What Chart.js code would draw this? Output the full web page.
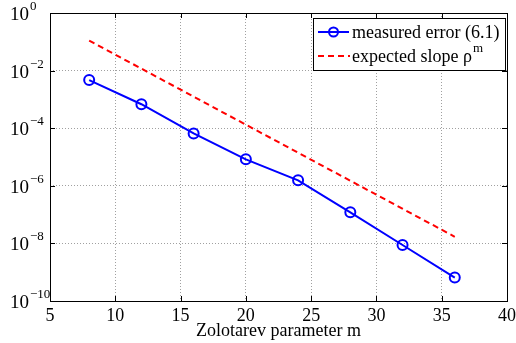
<!DOCTYPE html>
<html>
<head>
<meta charset="utf-8">
<script src="https://cdn.jsdelivr.net/npm/chart.js@4/dist/chart.umd.min.js"></script>
<style>
  html, body { margin: 0; padding: 0; background: #fff; }
  #wrap { width: 516px; height: 343px; }
</style>
</head>
<body>
<div id="wrap"><canvas id="c" width="516" height="343"></canvas></div>
<script>
// data
const mValues = [8, 12, 16, 20, 24, 28, 32, 36];
const measuredErr = [4.7e-3, 6.8e-4, 6.6e-5, 8.3e-6, 1.55e-6, 1.2e-7, 8.8e-9, 6.5e-10];
const slopeM = [8, 36];
const slopeVals = [0.11, 1.7e-8];
const yTicks = [1e-10, 1e-8, 1e-6, 1e-4, 1e-2, 1];
const xTicks = [5, 10, 15, 20, 25, 30, 35, 40];
const xTitle = "Zolotarev parameter m";
const legendItems = ["measured error (6.1)", "expected slope \u03c1"];

const SERIF = "'Liberation Serif', 'Times New Roman', serif";
const BLUE = "#0000ff", RED = "#ff0000";

// MATLAB-ish box, inward ticks, tex tick labels and legend
const decor = {
  id: "decor",
  afterDraw(chart) {
    const ctx = chart.ctx, a = chart.chartArea;
    const xs = chart.scales.x, ys = chart.scales.y;
    ctx.save();
    ctx.strokeStyle = "#000";
    ctx.lineWidth = 1;
    ctx.setLineDash([]);
    ctx.strokeRect(Math.round(a.left) + 0.5, Math.round(a.top) + 0.5,
      Math.round(a.right - a.left), Math.round(a.bottom - a.top));

    // inward ticks
    const tl = 5;
    ctx.beginPath();
    xTicks.forEach((v) => {
      const px = Math.round(xs.getPixelForValue(v)) + 0.5;
      ctx.moveTo(px, a.bottom); ctx.lineTo(px, a.bottom - tl);
      ctx.moveTo(px, a.top); ctx.lineTo(px, a.top + tl);
    });
    yTicks.forEach((v) => {
      const py = Math.round(ys.getPixelForValue(v)) + 0.5;
      ctx.moveTo(a.left, py); ctx.lineTo(a.left + tl, py);
      ctx.moveTo(a.right, py); ctx.lineTo(a.right - tl, py);
    });
    ctx.stroke();

    ctx.fillStyle = "#000";
    // x tick labels
    ctx.font = "18px " + SERIF;
    ctx.textAlign = "center";
    ctx.textBaseline = "alphabetic";
    xTicks.forEach((v) => ctx.fillText(String(v), xs.getPixelForValue(v), a.bottom + 20));
    // x title
    ctx.fillText(xTitle, (a.left + a.right) / 2, a.bottom + 35);

    // y tick labels 10^k
    ctx.textAlign = "left";
    yTicks.forEach((v) => {
      const py = ys.getPixelForValue(v);
      const k = Math.round(Math.log10(v));
      ctx.font = "19px " + SERIF;
      ctx.fillText("10", 10, py + 7);
      const w = ctx.measureText("10").width;
      ctx.font = "13px " + SERIF;
      ctx.fillText(k < 0 ? "\u2212" + (-k) : String(k), 10 + w + 1, py - 3);
    });

    // legend
    const lx = 313, ly = 18, lw = 192, lh = 52;
    ctx.fillStyle = "#fff";
    ctx.fillRect(lx, ly, lw, lh);
    ctx.strokeStyle = "#000";
    ctx.lineWidth = 1;
    ctx.strokeRect(lx + 0.5, ly + 0.5, lw, lh);
    const r1 = 32, r2 = 56;
    ctx.strokeStyle = BLUE;
    ctx.lineWidth = 2;
    ctx.beginPath(); ctx.moveTo(318, r1); ctx.lineTo(349, r1); ctx.stroke();
    ctx.beginPath(); ctx.arc(333.5, r1, 4.5, 0, Math.PI * 2); ctx.stroke();
    ctx.strokeStyle = RED;
    ctx.setLineDash([6, 4]);
    ctx.beginPath(); ctx.moveTo(318, r2); ctx.lineTo(350, r2); ctx.stroke();
    ctx.setLineDash([]);
    ctx.fillStyle = "#000";
    ctx.font = "18px " + SERIF;
    ctx.fillText(legendItems[0], 352, r1 + 6);
    ctx.fillText(legendItems[1], 352, r2 + 6);
    const w2 = ctx.measureText(legendItems[1]).width;
    ctx.font = "13px " + SERIF;
    ctx.fillText("m", 352 + w2 + 1, r2 - 4);
    ctx.restore();
  }
};

new Chart(document.getElementById("c"), {
  type: "line",
  data: {
    datasets: [
      { label: legendItems[1], data: slopeM.map((m, i) => ({ x: m, y: slopeVals[i] })),
        borderColor: RED, borderWidth: 2, borderDash: [6, 4], pointRadius: 0, fill: false },
      { label: legendItems[0], data: mValues.map((m, i) => ({ x: m, y: measuredErr[i] })),
        borderColor: BLUE, borderWidth: 2, pointStyle: "circle", pointRadius: 5,
        pointBorderWidth: 2, pointBorderColor: BLUE, pointBackgroundColor: "rgba(0,0,0,0)", fill: false },
    ],
  },
  options: {
    responsive: false, animation: false,
    layout: { padding: { left: 50, right: 9, top: 13, bottom: 42 } },
    plugins: { legend: { display: false }, tooltip: { enabled: false } },
    scales: {
      x: { type: "linear", min: 5, max: 40,
        afterBuildTicks: (ax) => { ax.ticks = xTicks.map((v) => ({ value: v })); },
        ticks: { display: false },
        grid: { color: "#a0a0a0", lineWidth: 1, drawTicks: false, tickLength: 0 },
        border: { display: false, dash: [1, 2] } },
      y: { type: "logarithmic", min: 1e-10, max: 1,
        afterBuildTicks: (ax) => { ax.ticks = yTicks.map((v) => ({ value: v })); },
        ticks: { display: false },
        grid: { color: "#a0a0a0", lineWidth: 1, drawTicks: false, tickLength: 0 },
        border: { display: false, dash: [1, 2] } },
    },
  },
  plugins: [decor],
});
</script>
</body>
</html>
